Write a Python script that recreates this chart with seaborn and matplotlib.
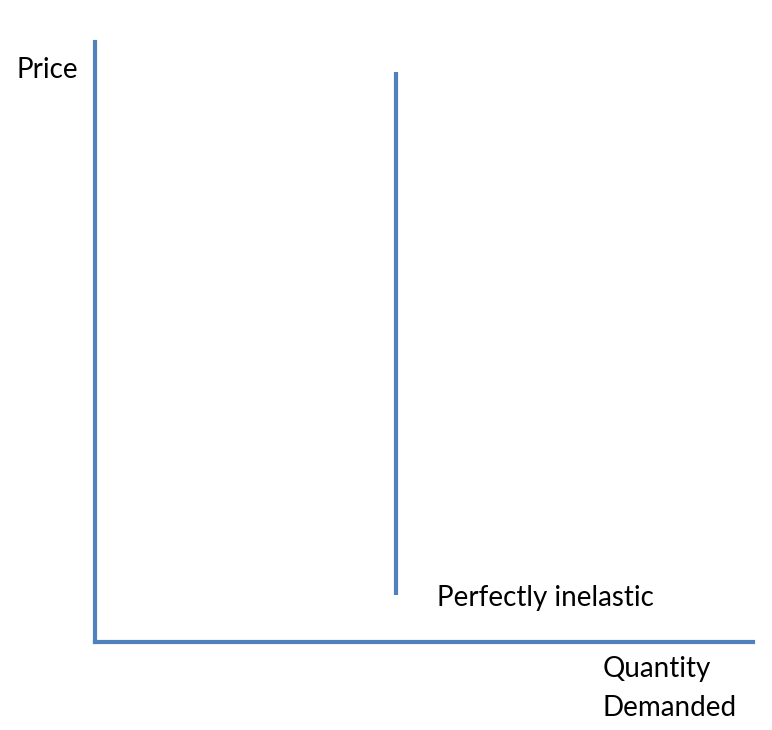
import matplotlib
matplotlib.use("Agg")
import matplotlib.pyplot as plt
import seaborn as sns
import pandas as pd

# Perfectly inelastic demand: same quantity at every price
quantity = [4.57, 4.57]
price = [0.78, 9.5]
line_label = "Perfectly inelastic"
x_label = "Quantity\nDemanded"
y_label = "Price"

blue = "#4f81bd"

sns.set_style("white")
plt.rcParams['font.family'] = ['Lato', 'DejaVu Sans']

fig = plt.figure(figsize=(7.72, 7.30), dpi=100)
ax = fig.add_axes([0.123, 0.1205, 0.852, 0.822])

df = pd.DataFrame({'quantity': quantity, 'price': price})
sns.lineplot(data=df, x='quantity', y='price', ax=ax, color=blue, linewidth=3,
             sort=False, estimator=None, errorbar=None, solid_capstyle='butt')

ax.set_xlim(0, 10)
ax.set_ylim(0, 10)
ax.set_xticks([])
ax.set_yticks([])
ax.set_xlabel('')
ax.set_ylabel('')
sns.despine(ax=ax)
for side in ['left', 'bottom']:
    ax.spines[side].set_color(blue)
    ax.spines[side].set_linewidth(3)

fig.text(0.021, 0.904, y_label, fontsize=20, va='center', ha='left', color='black')
ax.text(5.2, 0.73, line_label, fontsize=20, va='center', ha='left', color='black')
fig.text(0.781, 0.057, x_label, fontsize=20, va='center', ha='left',
         linespacing=1.65, color='black')

fig.savefig("out.png", dpi=100)
